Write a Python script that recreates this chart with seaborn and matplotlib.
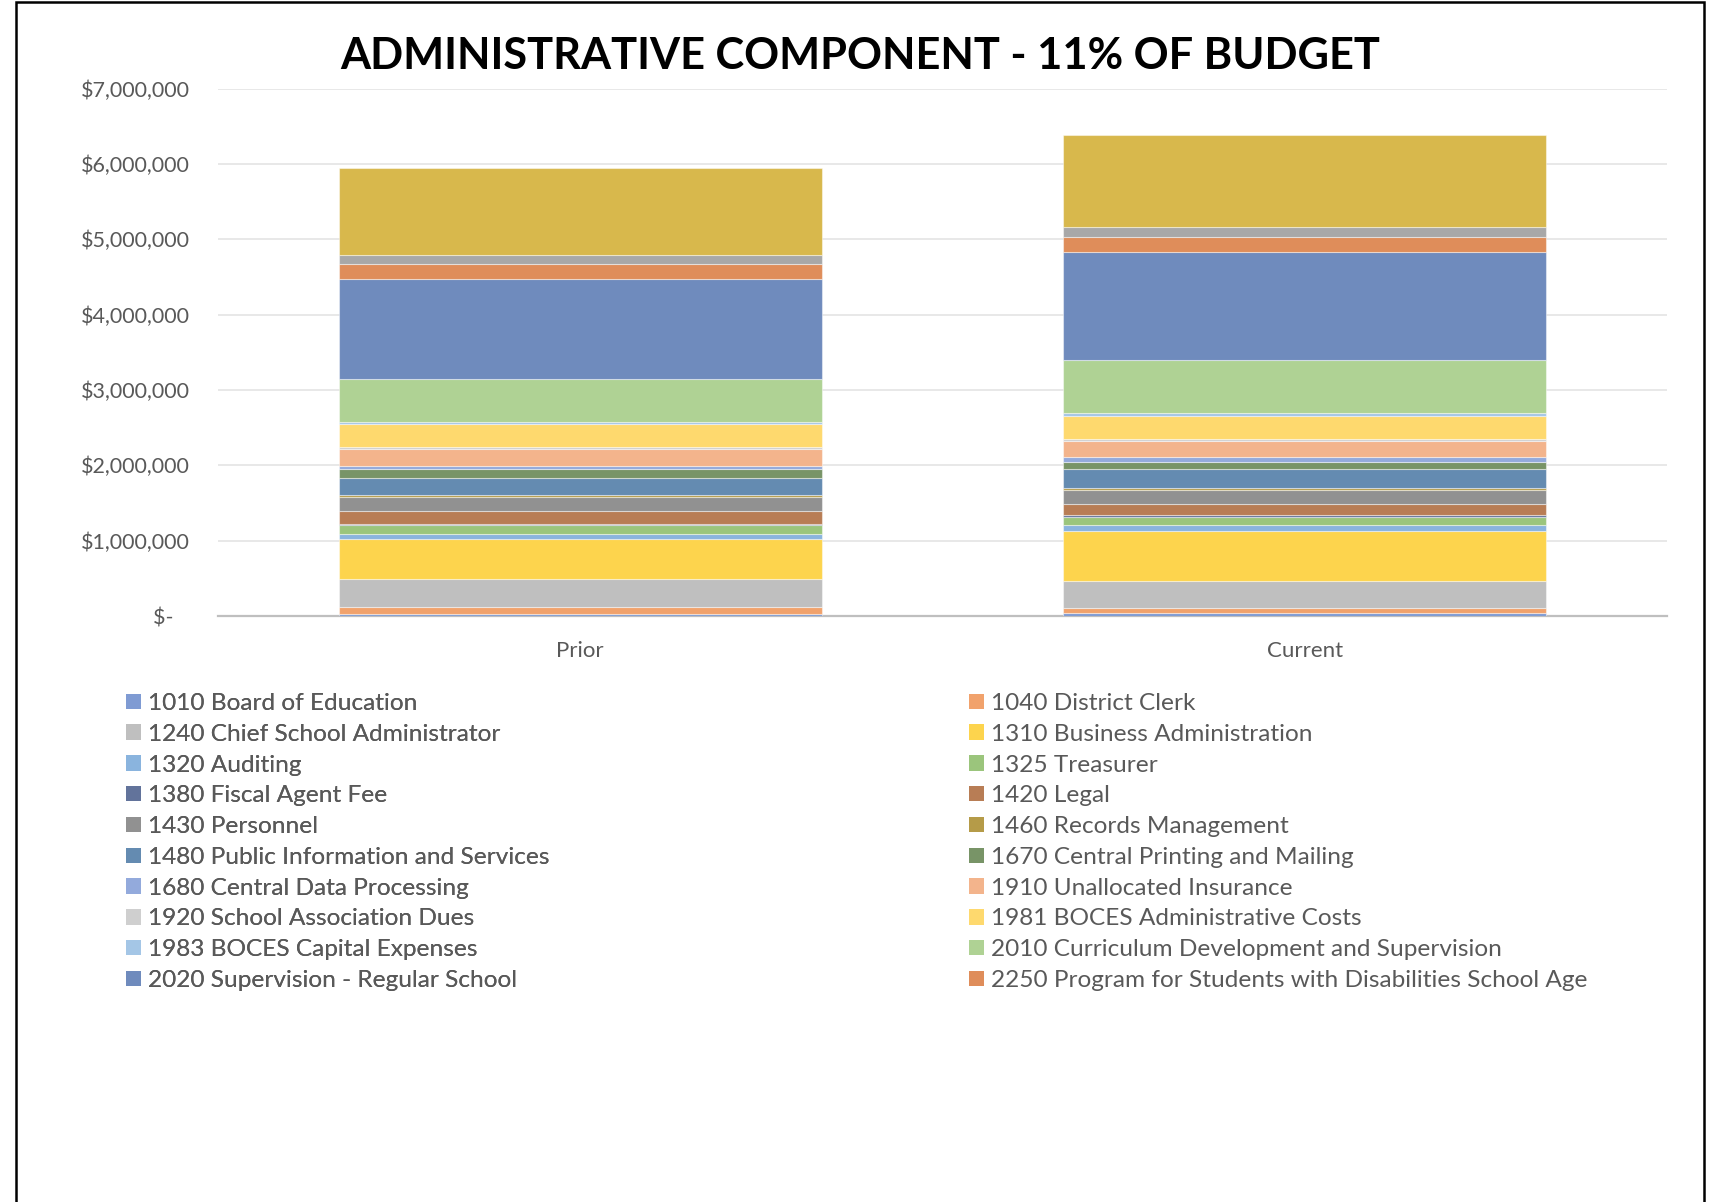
import matplotlib
matplotlib.use("Agg")
import matplotlib.pyplot as plt
from matplotlib.patches import Rectangle, Patch
import seaborn as sns
import numpy as np

# ---- data -------------------------------------------------------------
periods = ["Prior", "Current"]

functions = [
    "1010 Board of Education",
    "1040 District Clerk",
    "1240 Chief School Administrator",
    "1310 Business Administration",
    "1320 Auditing",
    "1325 Treasurer",
    "1380 Fiscal Agent Fee",
    "1420 Legal",
    "1430 Personnel",
    "1460 Records Management",
    "1480 Public Information and Services",
    "1670 Central Printing and Mailing",
    "1680 Central Data Processing",
    "1910 Unallocated Insurance",
    "1920 School Association Dues",
    "1981 BOCES Administrative Costs",
    "1983 BOCES Capital Expenses",
    "2010 Curriculum Development and Supervision",
    "2020 Supervision - Regular School",
    "2250 Program for Students with Disabilities School Age",
    "2060 Research, Planning and Evaluation",
    "9000 Employee Benefits",
]

prior_amounts = [31000, 93000, 367000, 535000, 66000, 111000, 18000, 168000,
                 195000, 22000, 221000, 124000, 44000, 221000, 22000, 305000,
                 35000, 566000, 1328000, 199000, 119000, 1164000]
current_amounts = [35000, 66000, 363000, 664000, 75000, 115000, 22000, 150000,
                   186000, 22000, 248000, 102000, 62000, 212000, 22000, 314000,
                   35000, 704000, 1438000, 190000, 137000, 1230000]

colors = ["#7F9BD3", "#F1A26C", "#BFBFBF", "#FDD44D", "#8AB4DE", "#9BC57C",
          "#62739B", "#B87D55", "#919191", "#B59B48", "#648BB1", "#789467",
          "#93AADC", "#F3B48C", "#CFCFCF", "#FED96E", "#A4C6E6", "#AFD294",
          "#6F8BBD", "#DF8D5A", "#A8A8A8", "#D8B84C"]

legend_count = 20  # entries listed under the chart

y_ticks = [0, 1e6, 2e6, 3e6, 4e6, 5e6, 6e6, 7e6]

# ---- figure -----------------------------------------------------------
sns.set_theme(style="white")
plt.rcParams["font.family"] = ["Lato", "DejaVu Sans"]

fig = plt.figure(figsize=(17.15, 12.02), dpi=100)
ax = fig.add_axes([0.1271, 0.4875, 0.8449, 0.4387])

bottoms = np.zeros(len(periods))
for name, p, c, col in zip(functions, prior_amounts, current_amounts, colors):
    vals = np.array([p, c], dtype=float)
    sns.barplot(x=periods, y=vals, bottom=bottoms, color=col, width=0.667,
                saturation=1, edgecolor=(1, 1, 1, 0.45), linewidth=0.8,
                ax=ax, label=name, zorder=3)
    bottoms = bottoms + vals

ax.set_xlim(-0.5, 1.5)
ax.set_ylim(0, 7e6)
ax.set_yticks(y_ticks)
ax.set_yticklabels(["$-   "] + [f"${v:,.0f}" for v in y_ticks[1:]])
ax.yaxis.grid(True, color="#E6E6E6", linewidth=1.3, zorder=0)
ax.set_axisbelow(True)
for s in ["top", "right", "left"]:
    ax.spines[s].set_visible(False)
ax.spines["bottom"].set_color("#BFBFBF")
ax.spines["bottom"].set_linewidth(1.6)
ax.tick_params(axis="y", length=0, pad=20, labelsize=15.5, labelcolor="#595959")
ax.tick_params(axis="x", length=0, pad=18, labelsize=16, labelcolor="#595959")
ax.set_xlabel("")
ax.set_ylabel("")

fig.text(0.5015, 0.9535, "ADMINISTRATIVE COMPONENT - 11% OF BUDGET",
         ha="center", va="center", fontsize=31.2, fontweight="bold", color="black")

# legend in two columns, read across rows
handles, labels = ax.get_legend_handles_labels()
labels = labels[:legend_count]
proxies = [Patch(facecolor=colors[i], edgecolor="none") for i in range(legend_count)]
leg_kw = dict(loc="upper left", frameon=False, fontsize=17.6, labelcolor="#595959",
              handlelength=0.6, handleheight=0.6, handletextpad=0.3,
              labelspacing=0.40, borderpad=0, borderaxespad=0)
left_leg = fig.legend(proxies[0::2], labels[0::2],
                      bbox_to_anchor=(126 / 1715, 1 - 693 / 1202), **leg_kw)
fig.add_artist(left_leg)
right_leg = fig.legend(proxies[1::2], labels[1::2],
                       bbox_to_anchor=(969 / 1715, 1 - 693 / 1202), **leg_kw)
if ax.get_legend() is not None:
    ax.get_legend().remove()

# outer frame
fig.patches.append(Rectangle((16.5 / 1715, -0.05), (1704.3 - 16.5) / 1715,
                             1.05 - 2.5 / 1202, transform=fig.transFigure,
                             fill=False, edgecolor="black", linewidth=1.8))

fig.savefig("out.png", dpi=100)
